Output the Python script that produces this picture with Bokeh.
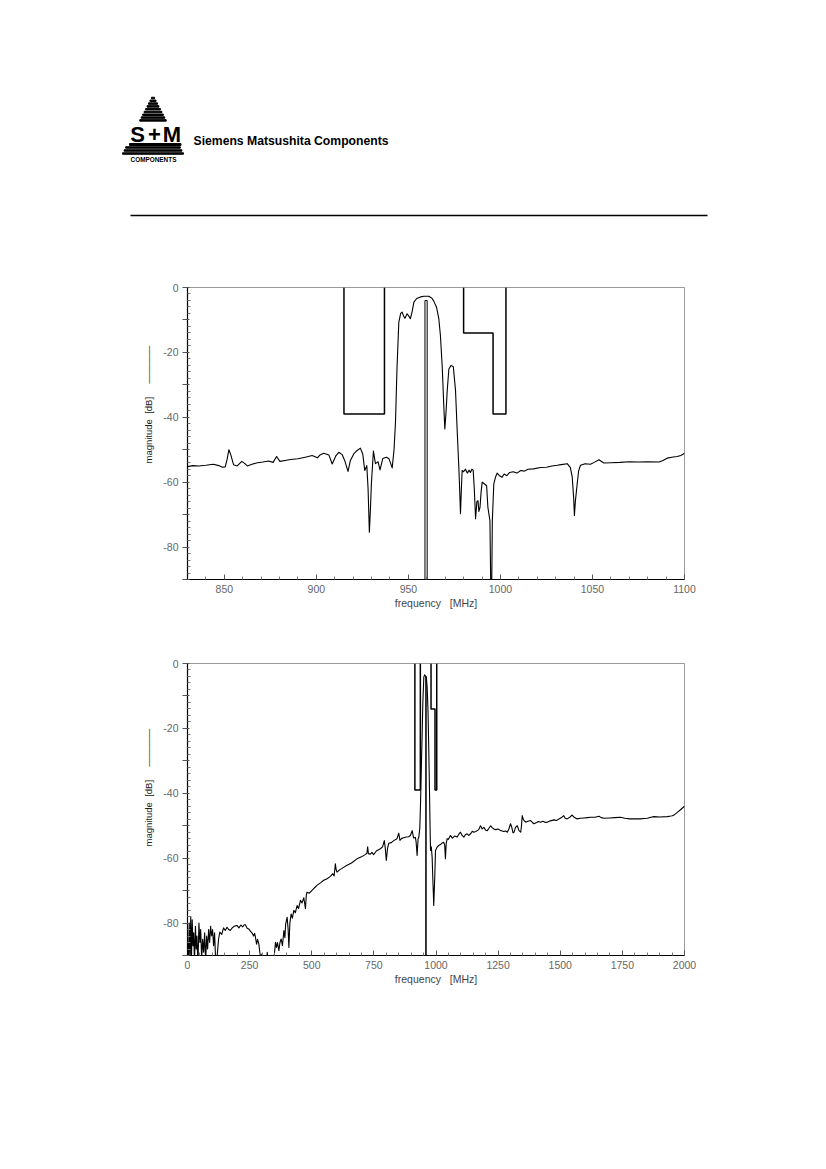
import math
from bokeh.plotting import figure
from bokeh.layouts import column
from bokeh.models import (Range1d, FixedTicker, CustomJSTickFormatter, Label, Title)
from bokeh.embed import file_html
from bokeh.resources import INLINE

# ---------------- data ----------------
# Narrow-band response (830 .. 1100 MHz)
nb_freq = [830, 833, 836, 840, 844, 847, 849, 850.5, 851.5, 852.5, 853.5, 855, 857, 859.5, 861, 862.5,
           865, 868, 871, 874, 876.5, 878.4, 880.2, 883, 886, 890, 894, 897.7, 900.6, 902, 904, 906.8,
           908.6, 910.5, 912.2, 914, 915.5, 917.2, 918.5, 920.3, 922, 923.9, 925.2, 926.3, 927.4, 928.1,
           928.8, 929.4, 929.9, 931, 932.1, 933.5, 934.6, 936.1, 938, 939.5, 941.2, 942.2, 943, 943.8,
           944.8, 945.8, 946.6, 947.4, 948.1, 949.3, 950.3, 951.1, 952, 953, 954.5, 956.6, 958.5, 961.1,
           962.8, 963.8, 965.3, 966.5, 967.4, 968.4, 969.2, 969.8, 970.5, 971.1, 972, 973.2, 974.4, 975.6,
           976.5, 977.4, 977.9, 978.3, 978.8, 979.2, 980, 981, 982, 983, 983.7, 984.5, 985.2, 985.8,
           986.5, 987.2, 987.8, 988.3, 988.9, 989.5, 990.1, 991.2, 992.5, 993.2, 994.3, 994.8, 995.2,
           995.6, 996.4, 997.3, 998.2, 999.5, 1000.9, 1002, 1003.5, 1005, 1007, 1009, 1011, 1013, 1015,
           1018, 1021.8, 1025, 1028, 1030.8, 1033, 1036.3, 1038, 1039, 1039.8, 1040.2, 1040.7, 1041.7,
           1042.5, 1043.5, 1046, 1048.9, 1051, 1053.5, 1056.2, 1060, 1065, 1070, 1075, 1080, 1086.1,
           1088, 1090.6, 1093, 1096, 1098, 1100]
nb_db = [-55.2, -54.9, -55.0, -54.8, -54.5, -54.9, -55.4, -55.3, -53.0, -50.0, -51.5, -54.6, -55.0, -53.6,
         -54.2, -55.0, -54.5, -54.0, -53.8, -53.5, -53.9, -52.1, -53.6, -53.3, -53.0, -52.8, -52.3, -51.8,
         -52.5, -51.6, -51.1, -51.6, -54.4, -52.0, -50.8, -51.5, -53.5, -56.7, -53.3, -51.3, -50.3, -49.5,
         -51.3, -56.4, -54.9, -62.0, -75.4, -68.0, -60.5, -50.4, -54.3, -53.7, -56.2, -52.7, -52.3, -52.8,
         -55.6, -50.0, -41.5, -25.0, -10.7, -8.0, -7.6, -8.8, -9.5, -8.1, -8.9, -9.6, -7.5, -4.5, -3.4,
         -2.9, -2.7, -2.7, -3.3, -4.2, -6.1, -9.5, -14.8, -24.6, -36.0, -43.6, -38.0, -31.7, -25.1, -24.0,
         -24.4, -31.7, -44.0, -55.4, -63.0, -69.7, -62.0, -56.4, -56.8, -56.0, -57.2, -56.3, -57.0, -56.0,
         -56.4, -62.0, -71.3, -66.0, -65.7, -69.0, -67.8, -63.0, -60.0, -60.5, -61.1, -67.8, -71.9, -95.0,
         -96.0, -72.0, -60.5, -58.5, -57.2, -58.0, -58.5, -57.5, -58.0, -57.0, -56.8, -57.2, -56.4, -56.6,
         -56.0, -55.9, -55.5, -55.4, -55.0, -54.8, -54.6, -54.3, -55.5, -58.4, -65.0, -70.3, -66.0, -60.5,
         -56.5, -54.8, -54.3, -54.5, -53.9, -53.1, -54.1, -54.0, -53.9, -53.7, -53.8, -53.7, -53.8, -53.4,
         -52.6, -52.3, -52.1, -51.8, -51.1]

# Wide-band response (0 .. 2000 MHz)
wb_freq = [0, 4, 7, 10, 13, 16, 19, 22, 25, 28, 32, 35, 38, 42, 46, 50, 53, 57, 61, 65, 69, 73, 77, 81,
           85, 89, 93, 97, 101, 105, 109, 113, 117, 120, 125, 130, 138, 145, 152, 159, 166, 172, 180, 188,
           195, 200, 207, 215, 222, 228, 233, 240, 246.5, 253, 260, 266, 270, 273, 278, 282, 287, 291, 294,
           300, 305, 312, 318, 321, 328, 335, 342, 348, 354, 358, 362, 367.7, 372, 377, 382, 388, 392, 395,
           401, 405, 408, 412, 417, 422, 428, 434, 441, 447, 454.6, 461, 468, 474.7, 478, 481, 490, 501,
           510, 521, 535, 548, 560, 575, 585, 590, 595, 598, 601.6, 612, 625, 641.8, 660, 682, 700, 715,
           722, 725, 728, 735, 742, 749, 760, 776, 785, 792, 796, 800, 805, 810, 820, 830, 843, 850, 855,
           862, 870, 880, 890, 897, 904, 910, 917, 920, 924, 928, 931, 935, 938, 941, 944.3, 947, 951, 954,
           957.7, 961, 964.5, 968, 971, 974, 976, 978, 981, 984.5, 987, 989, 991, 993, 995, 998, 1002,
           1005, 1011, 1018, 1025, 1031, 1035, 1038, 1041, 1045, 1050, 1058, 1066, 1075, 1085, 1092,
           1098.6, 1105, 1112, 1118, 1125, 1132, 1140, 1146, 1152, 1160, 1166, 1172, 1179, 1186, 1193,
           1200, 1206, 1213, 1220, 1226, 1233, 1240, 1250, 1260, 1272, 1280, 1287, 1293, 1300, 1305, 1310,
           1314, 1320, 1327, 1334, 1341, 1344, 1347, 1352, 1361, 1370, 1381, 1388, 1394, 1405, 1412, 1421,
           1430, 1440, 1448, 1460, 1475, 1485, 1495, 1505, 1514, 1520, 1528, 1538, 1548, 1556, 1568, 1580,
           1595, 1610, 1622, 1640, 1656, 1665, 1676, 1700, 1720, 1742, 1760, 1780, 1796, 1820, 1850, 1865,
           1877, 1900, 1931, 1945, 1951, 1960, 1971, 1985, 2000]
wb_db = [-86, -90, -80, -92, -78, -91, -79, -87, -83, -92, -81, -88, -84, -93, -80, -86, -82, -91, -85, -89,
         -83, -92, -84, -88, -82, -86, -81, -84, -82, -87, -83, -91, -95, -89.5, -85, -82.8, -83.5, -81.5,
         -82.3, -81.3, -82.0, -82.3, -81.5, -81.0, -80.8, -80.8, -81.5, -80.6, -81.2, -80.5, -80.5, -81.6,
         -81.8, -82.5, -83.1, -84.0, -83.2, -84.2, -86.5, -85.0, -86.4, -89.0, -90.5, -89.5, -91.5, -90.5,
         -93.0, -89.0, -95.0, -92.0, -95.0, -91.0, -85.9, -87.5, -86.0, -88.5, -86.0, -84.9, -87.0, -82.3,
         -84.5, -80.3, -78.2, -82.0, -87.5, -80.0, -77.2, -78.5, -76.1, -76.8, -74.6, -75.5, -73.0, -73.8,
         -72.2, -75.6, -71.5, -70.5, -70.8, -69.9, -69.2, -68.4, -67.6, -66.8, -66.4, -65.6, -64.8, -65.5,
         -61.7, -63.5, -64.3, -63.6, -63.0, -62.2, -61.5, -60.2, -59.6, -58.9, -58.5, -56.5, -58.6, -58.8,
         -58.2, -58.9, -57.8, -57.1, -56.5, -54.6, -57.0, -60.7, -57.0, -55.4, -55.2, -54.6, -54.0, -52.3,
         -54.5, -53.9, -53.7, -53.5, -53.4, -53.0, -51.5, -53.8, -53.6, -55.0, -59.2, -54.0, -53.5, -50.5,
         -42.2, -32.0, -21.7, -12.0, -4.2, -3.5, -3.8, -4.2, -7.3, -15.0, -26.8, -40.0, -50.0, -57.6, -56.5,
         -59.7, -65.9, -70.0, -74.6, -70.0, -65.9, -57.6, -57.0, -56.5, -56.1, -55.8, -55.3, -55.1, -56.0,
         -60.2, -55.5, -54.0, -54.2, -53.0, -53.8, -53.2, -53.5, -52.6, -52.0, -53.0, -53.5, -52.8, -52.5,
         -53.0, -52.4, -51.7, -52.0, -51.8, -51.5, -51.2, -50.0, -51.0, -50.5, -51.4, -51.5, -50.8, -50.0,
         -50.6, -51.0, -51.2, -51.0, -51.5, -51.8, -51.6, -52.0, -51.0, -49.4, -50.5, -52.2, -52.0, -50.5,
         -50.0, -51.5, -52.0, -50.0, -46.9, -48.2, -48.9, -48.6, -48.4, -49.0, -49.4, -49.0, -48.7, -48.9,
         -48.6, -49.0, -48.9, -48.5, -48.2, -48.4, -47.9, -47.5, -46.9, -47.7, -47.9, -47.4, -46.7, -47.4,
         -47.9, -47.7, -47.6, -47.5, -47.4, -47.4, -47.1, -47.5, -47.7, -47.6, -47.5, -47.4, -47.7, -47.9,
         -47.9, -47.9, -47.7, -47.4, -47.2, -47.3, -47.2, -47.0, -46.9, -46.6, -45.9, -45.0, -44.0]

# tolerance mask
mask1_freq = [915, 915, 937, 937]
mask1_db = [0, -39, -39, 0]
mask2_freq = [959, 959, 960.2, 960.2]
mask2_db = [-90, -4, -4, -90]
mask3_freq = [980, 980, 996, 996, 1003, 1003]
mask3_db = [0, -14, -14, -39, -39, 0]

# axes
nb_xticks = [850, 900, 950, 1000, 1050, 1100]
nb_xminor = [v for v in range(840, 1100, 10) if v % 50 != 0]
wb_xticks = [0, 250, 500, 750, 1000, 1250, 1500, 1750, 2000]
wb_xminor = [v for v in range(50, 2000, 50) if v % 250 != 0]
y_ticks = [0, -10, -20, -30, -40, -50, -60, -70, -80, -90]
y_minor = [v for v in range(-88, 0, 2) if v % 10 != 0]

x_title = "frequency\u00a0\u00a0 [MHz]"
y_title = "magnitude\u00a0 [dB]"
y_title_rule = "\u2014" * 4

TICK_FONT = "Liberation Sans"
PAGE_W = 818
LEFT = 187
FRAME_W = 497
FRAME_H = 292


def chart(xr, xt, xm, freq, db, top_border, ylab_offset):
    p = figure(frame_width=FRAME_W, frame_height=FRAME_H, min_border_left=LEFT,
               min_border_right=PAGE_W - LEFT - FRAME_W,
               min_border_top=top_border, min_border_bottom=50,
               x_range=Range1d(*xr), y_range=Range1d(-90, 0),
               output_backend="svg", toolbar_location=None)
    p.xgrid.visible = False
    p.ygrid.visible = False
    p.outline_line_color = "#9a9a9a"
    p.outline_line_width = 1
    p.background_fill_color = "white"
    p.border_fill_color = "white"

    for ax in (p.xaxis[0], p.yaxis[0]):
        ax.axis_line_color = "black"
        ax.axis_line_width = 1.2
        ax.major_tick_line_color = "#555555"
        ax.minor_tick_line_color = "#777777"
        ax.major_label_text_font = TICK_FONT
        ax.major_label_text_font_size = "10.5px"
        ax.major_label_text_color = "#666666"
        ax.axis_label_text_font = TICK_FONT
        ax.axis_label_text_font_size = "10.5px"
        ax.axis_label_text_font_style = "normal"
        ax.axis_label_text_color = "#444444"

    xa = p.xaxis[0]
    xa.ticker = FixedTicker(ticks=xt, minor_ticks=xm)
    xa.major_tick_in = 5
    xa.major_tick_out = 0
    xa.minor_tick_in = 3
    xa.minor_tick_out = 0
    xa.major_label_standoff = 5
    xa.axis_label = x_title
    xa.axis_label_standoff = 1

    ya = p.yaxis[0]
    ya.ticker = FixedTicker(ticks=y_ticks, minor_ticks=y_minor)
    ya.formatter = CustomJSTickFormatter(code="return (Math.abs(tick) % 20 == 0) ? String(tick) : '';")
    ya.major_tick_in = 2
    ya.major_tick_out = 5
    ya.minor_tick_in = 3
    ya.minor_tick_out = 0
    ya.major_label_standoff = 4

    # y title with its legend stroke, as a side title
    p.add_layout(Title(text=y_title + "\u00a0" * 5 + y_title_rule, align="left", offset=ylab_offset,
                       text_font=TICK_FONT, text_font_size="9.5px", text_font_style="normal",
                       text_color="#222222", standoff=14), "left")

    # curve
    p.line(freq, db, line_color="black", line_width=1.1, line_join="round")
    # mask
    p.line(mask1_freq, mask1_db, line_color="black", line_width=1.5)
    p.line(mask2_freq, mask2_db, line_color="black", line_width=1.0)
    p.line(mask3_freq, mask3_db, line_color="black", line_width=1.5)
    return p


# ---------------- header ----------------
hdr = figure(width=PAGE_W, height=258, frame_width=PAGE_W, frame_height=258, min_border=0,
             x_axis_type=None, y_axis_type=None,
             x_range=Range1d(0, PAGE_W), y_range=Range1d(258, 0),
             output_backend="svg", toolbar_location=None)
hdr.outline_line_color = None
hdr.grid.visible = False

apex_x, apex_y, slope = 152.5, 94.5, 0.52
stripe_y = [97.5, 100.3, 103.1, 105.9, 108.7, 111.5, 114.3, 117.1, 119.9, 147.0, 150.0, 153.0]
left = [apex_x - (y - apex_y) * slope for y in stripe_y]
right = [apex_x + (y - apex_y) * slope for y in stripe_y]
hdr.hbar(y=stripe_y, left=left, right=right, height=1.5, color="black")
hdr.hbar(y=[144.0], left=[129], right=[180.5], height=2.0, color="black")
for ch, cx in (("S", 137.0), ("+", 154.0), ("M", 171.5)):
    hdr.add_layout(Label(x=cx, y=134.0, text=ch, text_font=TICK_FONT, text_font_style="bold",
                         text_font_size="22px", text_align="center", text_baseline="middle",
                         text_color="black"))
hdr.add_layout(Label(x=153, y=158.8, text="COMPONENTS", text_font=TICK_FONT, text_font_style="bold",
                     text_font_size="6.4px", text_align="center", text_baseline="middle",
                     text_color="black"))
hdr.add_layout(Label(x=193, y=140.5, text="Siemens Matsushita Components", text_font=TICK_FONT,
                     text_font_style="bold", text_font_size="12.2px", text_align="left",
                     text_baseline="middle", text_color="black"))
hdr.segment(x0=[130], y0=[215], x1=[707], y1=[215], line_color="black", line_width=1.3)

p1 = chart((830, 1100), nb_xticks, nb_xminor, nb_freq, nb_db, 29, 116)
p2 = chart((0, 2000), wb_xticks, wb_xminor, wb_freq, wb_db, 34, 109)

layout = column(column(hdr), column(p1, p2), spacing=0)
open("out.html", "w").write(file_html(layout, INLINE))
